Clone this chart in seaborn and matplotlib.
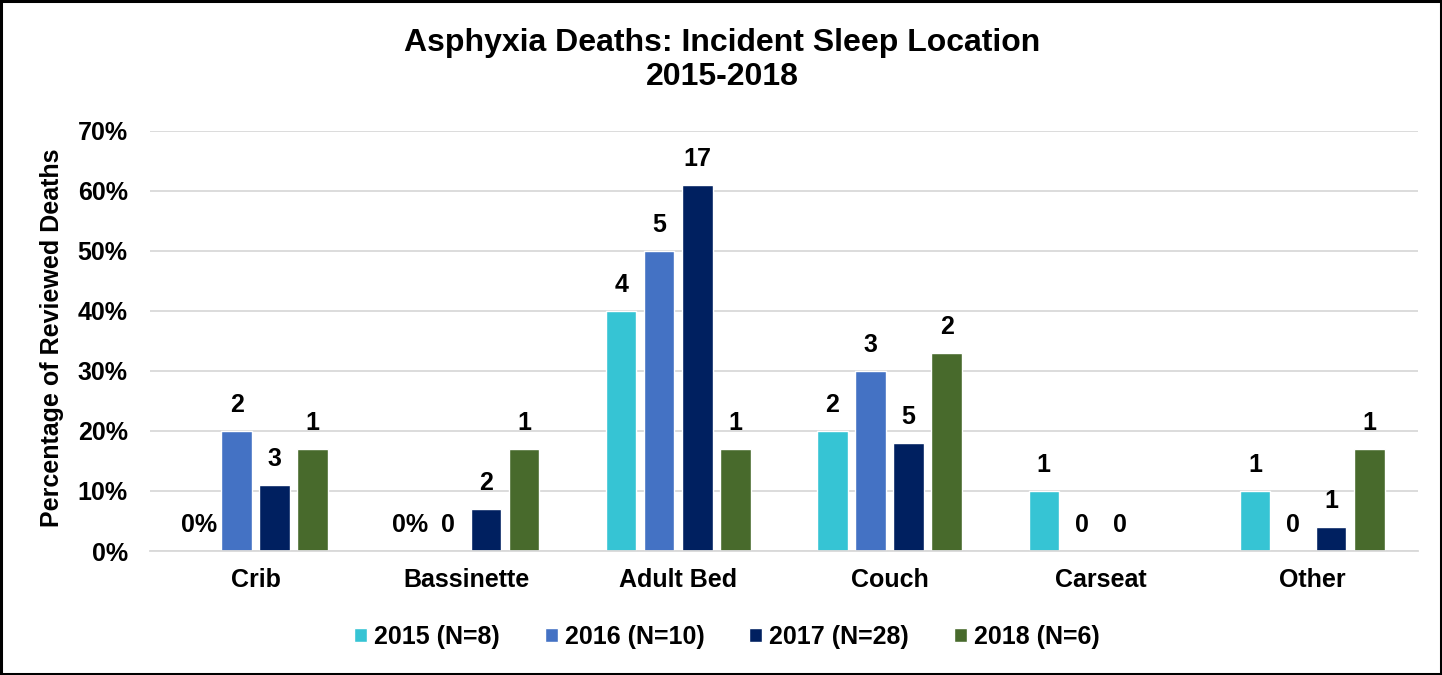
import pandas as pd
import numpy as np
import matplotlib
matplotlib.use("Agg")
import matplotlib.pyplot as plt
import seaborn as sns
from matplotlib.patches import Rectangle

locations = ["Crib", "Bassinette", "Adult Bed", "Couch", "Carseat", "Other"]
years = ["2015 (N=8)", "2016 (N=10)", "2017 (N=28)", "2018 (N=6)"]

pct_2015 = [0, 0, 40, 20, 10, 10]
pct_2016 = [20, 0, 50, 30, 0, 0]
pct_2017 = [11, 7, 61, 18, 0, 4]
pct_2018 = [17, 17, 17, 33, 0, 17]

labels_2015 = ["0%", "0%", "4", "2", "1", "1"]
labels_2016 = ["2", "0", "5", "3", "0", "0"]
labels_2017 = ["3", "2", "17", "5", "0", "1"]
labels_2018 = ["1", "1", "1", "2", "", "1"]

colors = ["#36C4D4", "#4472C4", "#002060", "#486A2C"]

rows = []
for yr, vals in zip(years, [pct_2015, pct_2016, pct_2017, pct_2018]):
    for loc, v in zip(locations, vals):
        rows.append({"location": loc, "year": yr, "pct": v / 100})
df = pd.DataFrame(rows)
all_labels = [labels_2015, labels_2016, labels_2017, labels_2018]

sns.set_style("white")
plt.rcParams['font.family'] = ['Liberation Sans', 'DejaVu Sans']
plt.rcParams['text.color'] = 'black'
plt.rcParams['axes.labelcolor'] = 'black'
plt.rcParams['xtick.color'] = 'black'
plt.rcParams['ytick.color'] = 'black'

fig = plt.figure(figsize=(14.42, 6.75), dpi=100)
ax = fig.add_axes([0.104, 0.1837, 0.8793, 0.6223])

sns.barplot(
    data=df, x="location", y="pct", hue="year",
    palette=colors, width=0.72, gap=0.2, ax=ax,
    saturation=1, legend=True
)

# value labels (counts) above each bar
for cont, labs in zip(ax.containers, all_labels):
    for bar, lab in zip(cont, labs):
        if lab == "":
            continue
        x = bar.get_x() + bar.get_width() / 2
        y = bar.get_height()
        ax.annotate(lab, (x, y), xytext=(0, 18.5), textcoords="offset points",
                    ha="center", va="center", fontsize=18, fontweight="bold",
                    color="black")

ax.set_ylim(0, 0.70)
ax.set_xlim(-0.5, 5.5)
ticks = np.arange(0, 0.71, 0.1)
ax.set_yticks(ticks)
ax.set_yticklabels([f"{int(round(t * 100))}%" for t in ticks],
                   fontsize=18, fontweight="bold")
ax.set_xticks(range(len(locations)))
ax.set_xticklabels(locations, fontsize=18, fontweight="bold")
ax.tick_params(axis="both", length=0, labelcolor="black")
ax.tick_params(axis="x", pad=12)
ax.tick_params(axis="y", pad=16)
ax.yaxis.grid(True, color="#D9D9D9", linewidth=1.3)
ax.set_axisbelow(True)
for s in ["top", "right", "left"]:
    ax.spines[s].set_visible(False)
ax.spines["bottom"].set_color("#D9D9D9")
ax.spines["bottom"].set_linewidth(1.3)

ax.set_xlabel("")
ax.set_ylabel("")
fig.text(52 / 1442, 0.499, "Percentage of Reviewed Deaths", rotation=90,
         ha="center", va="center", fontsize=18, fontweight="bold", color="black")

fig.text(0.501, 1 - 43 / 675, "Asphyxia Deaths: Incident Sleep Location",
         ha="center", va="center", fontsize=23, fontweight="bold", color="black")
fig.text(0.501, 1 - 77 / 675, "2015-2018",
         ha="center", va="center", fontsize=23, fontweight="bold", color="black")

handles, lbls = ax.get_legend_handles_labels()
ax.get_legend().remove()
fig.legend(handles, lbls, loc="center", bbox_to_anchor=(0.504, 1 - 637 / 675), ncol=4,
           frameon=False, prop={"weight": "bold", "size": 18},
           handlelength=0.52, handleheight=0.52, handletextpad=0.28, columnspacing=1.8,
           labelcolor="black")

fig.patches.append(Rectangle((0.001, 0.002), 0.998, 0.996, transform=fig.transFigure,
                             fill=False, edgecolor="black", linewidth=2.2))

fig.savefig("out.png", dpi=100)
